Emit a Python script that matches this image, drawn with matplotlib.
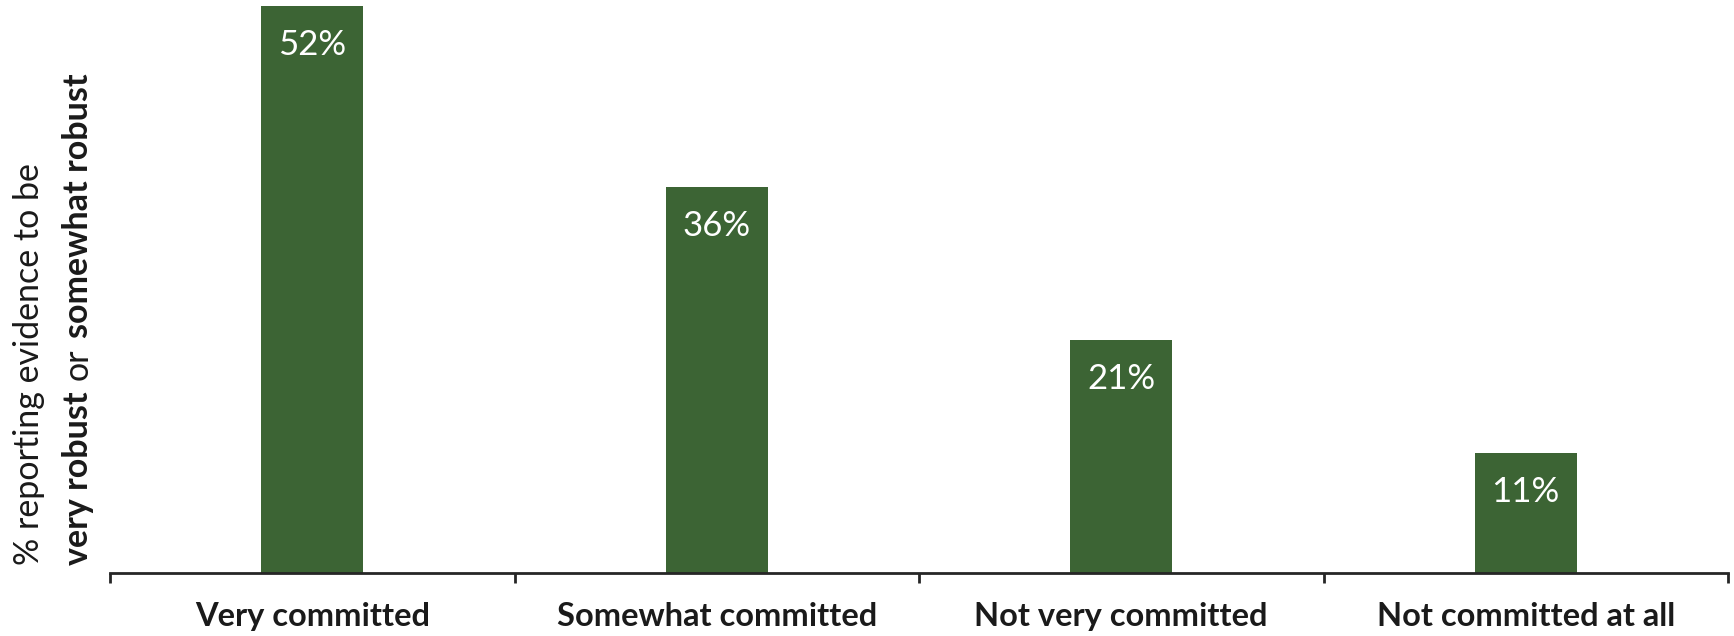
import numpy as np
import matplotlib.pyplot as plt

# DATA
categories = ["Very committed", "Somewhat committed", "Not very committed", "Not committed at all"]
values     = [52, 35.4, 21.4, 11]          # bar heights
labels     = ["52%", "36%", "21%", "11%"]  # printed labels

bar_color  = "#3c6434"
text_color = "#1a1a1a"
font       = "Lato"

plt.rcParams['font.family'] = [font, 'DejaVu Sans']

fig = plt.figure(figsize=(17.34, 6.36), dpi=100)
ax = fig.add_axes([110/1734, 1 - 573/636, (1728-110)/1734, (573-6)/636])

x = np.arange(len(categories))
bars = ax.bar(x, values, width=0.252, color=bar_color, zorder=2)

# value labels inside top of bars
for b, lab in zip(bars, labels):
    ax.annotate(lab, (b.get_x() + b.get_width()/2, b.get_height()),
                xytext=(0, -23), textcoords="offset pixels",
                ha="center", va="top", color="white", fontsize=25)

ax.set_xlim(-0.5, len(categories) - 0.5)
ax.set_ylim(0, 52)

for s in ["top", "right", "left"]:
    ax.spines[s].set_visible(False)
ax.spines["bottom"].set_color("#262626")
ax.spines["bottom"].set_linewidth(2)

ax.set_yticks([])
# boundary ticks between categories
ax.set_xticks(np.arange(-0.5, len(categories)))
ax.set_xticklabels([])
ax.tick_params(axis="x", which="major", length=7.5, width=2, color="#262626", direction="out")
ax.set_xticks(x, minor=True)
ax.set_xticklabels(categories, minor=True, fontsize=23.5, fontweight="bold", color=text_color)
ax.tick_params(axis="x", which="minor", length=0, pad=21)

# y label, two lines, second line mixed weights
fig.text(29/1734, 1 - 565/636, "% reporting evidence to be", rotation=90,
         ha="center", va="bottom", fontsize=24.5, color=text_color)

fig.canvas.draw()
renderer = fig.canvas.get_renderer()
y0 = 565
parts = [("very robust", "bold", 0), ("or", "normal", 11), ("somewhat robust", "bold", 11)]
for txt, w, gap in parts:
    y0 = y0 - gap
    t = fig.text(78/1734, 1 - y0/636, txt, rotation=90, ha="center", va="bottom",
                 fontsize=24.5, fontweight=w, color=text_color)
    bb = t.get_window_extent(renderer)
    y0 = y0 - bb.height

fig.savefig("out.png", dpi=100)
